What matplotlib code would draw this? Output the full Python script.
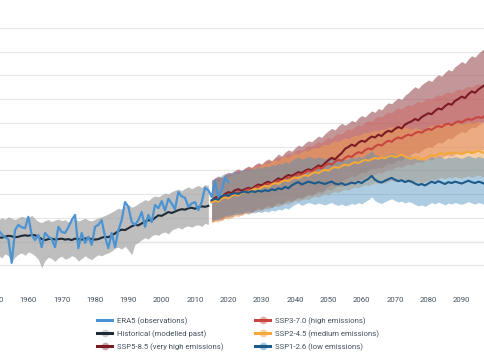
import numpy as np
import matplotlib.pyplot as plt
from matplotlib.lines import Line2D
from matplotlib.legend_handler import HandlerTuple

plt.switch_backend('agg')
plt.rcParams['font.family'] = ['Roboto', 'DejaVu Sans']

# observations 1950-2020
era5_years = np.arange(1950, 2021)
era5 = [0.20, 0.24, 0.15, 0.09, 0.05, -0.45, 0.24, 0.35, 0.30, 0.28,
        0.52, 0.14, 0.03, 0.14, -0.12, 0.18, 0.10, 0.05, -0.12, 0.31,
        0.20, 0.18, 0.30, 0.45, 0.56, -0.14, 0.18, -0.03, 0.10, -0.07,
        0.31, 0.35, 0.45, 0.10, -0.14, 0.18, -0.12, 0.24, 0.45, 0.83,
        0.73, 0.41, 0.35, 0.45, 0.62, 0.31, 0.56, 0.41, 0.77, 0.70,
        0.85, 0.65, 0.90, 0.80, 0.68, 1.04, 0.95, 0.92, 0.73, 0.80,
        0.83, 0.66, 0.83, 1.13, 1.08, 0.94, 1.25, 0.94, 1.08, 1.34,
        1.25]

# historical model runs 1950-2014
hist_years = np.arange(1950, 2015)
hist = [0.10, 0.09, 0.08, 0.10, 0.12, 0.11, 0.09, 0.10, 0.12, 0.13,
        0.12, 0.14, 0.13, 0.10, 0.05, 0.03, 0.05, 0.06, 0.04, 0.05,
        0.06, 0.04, 0.05, 0.03, 0.06, 0.05, 0.04, 0.06, 0.07, 0.05,
        0.04, 0.05, 0.08, 0.10, 0.09, 0.13, 0.17, 0.22, 0.25, 0.24,
        0.28, 0.32, 0.35, 0.34, 0.38, 0.42, 0.45, 0.44, 0.50, 0.55,
        0.54, 0.58, 0.62, 0.60, 0.63, 0.66, 0.68, 0.67, 0.70, 0.71,
        0.69, 0.72, 0.74, 0.73, 0.75]
hist_lo = [-0.30, -0.28, -0.35, -0.26, -0.30, -0.42, -0.33, -0.27, -0.24, -0.29,
           -0.22, -0.25, -0.30, -0.38, -0.55, -0.40, -0.33, -0.36, -0.42, -0.34,
           -0.31, -0.37, -0.35, -0.30, -0.33, -0.41, -0.36, -0.30, -0.35, -0.38,
           -0.32, -0.28, -0.30, -0.26, -0.24, -0.20, -0.14, -0.12, -0.16, -0.10,
           -0.18, -0.28, -0.06, -0.02, 0.04, 0.08, 0.05, 0.12, 0.15, 0.13,
           0.18, 0.20, 0.16, 0.24, 0.27, 0.30, 0.26, 0.31, 0.33, 0.30,
           0.34, 0.35, 0.32, 0.38, 0.36]
hist_hi = [0.48, 0.45, 0.50, 0.47, 0.52, 0.49, 0.46, 0.50, 0.53, 0.51,
           0.50, 0.55, 0.48, 0.42, 0.40, 0.44, 0.46, 0.42, 0.45, 0.47,
           0.44, 0.46, 0.41, 0.45, 0.48, 0.43, 0.46, 0.49, 0.45, 0.43,
           0.47, 0.50, 0.52, 0.55, 0.58, 0.62, 0.66, 0.70, 0.68, 0.74,
           0.78, 0.72, 0.75, 0.80, 0.84, 0.88, 0.86, 0.92, 0.96, 0.94,
           0.98, 1.02, 1.00, 1.05, 1.08, 1.10, 1.07, 1.12, 1.15, 1.11,
           1.15, 1.18, 1.14, 1.20, 1.17]

# scenarios 2015-2100
ssp_years = np.arange(2015, 2101)

ssp585 = [0.86, 0.92, 0.95, 0.93, 1.00, 1.04, 1.02, 1.08, 1.10, 1.07,
          1.10, 1.13, 1.11, 1.16, 1.20, 1.18, 1.23, 1.26, 1.22, 1.28,
          1.33, 1.30, 1.36, 1.40, 1.38, 1.42, 1.46, 1.44, 1.49, 1.52,
          1.50, 1.55, 1.60, 1.58, 1.65, 1.71, 1.76, 1.73, 1.80, 1.86,
          1.95, 1.99, 2.04, 2.01, 2.08, 2.12, 2.10, 2.16, 2.21, 2.19,
          2.25, 2.22, 2.29, 2.33, 2.31, 2.37, 2.41, 2.38, 2.46, 2.50,
          2.53, 2.58, 2.55, 2.62, 2.66, 2.70, 2.68, 2.75, 2.80, 2.78,
          2.85, 2.90, 2.88, 2.96, 3.00, 3.05, 3.02, 3.10, 3.16, 3.13,
          3.20, 3.25, 3.30, 3.28, 3.36, 3.40]
ssp585_lo = [0.42, 0.46, 0.50, 0.47, 0.53, 0.57, 0.55, 0.60, 0.62, 0.58,
             0.63, 0.66, 0.62, 0.67, 0.71, 0.68, 0.73, 0.76, 0.72, 0.78,
             0.82, 0.79, 0.85, 0.88, 0.86, 0.90, 0.94, 0.92, 0.96, 1.00,
             0.98, 1.02, 1.07, 1.05, 1.11, 1.16, 1.20, 1.17, 1.23, 1.28,
             1.31, 1.35, 1.39, 1.36, 1.42, 1.46, 1.44, 1.50, 1.54, 1.52,
             1.57, 1.55, 1.61, 1.65, 1.63, 1.68, 1.72, 1.70, 1.77, 1.81,
             1.84, 1.88, 1.86, 1.92, 1.96, 2.00, 1.98, 2.04, 2.09, 2.07,
             2.13, 2.18, 2.16, 2.23, 2.27, 2.32, 2.29, 2.36, 2.41, 2.39,
             2.45, 2.50, 2.54, 2.52, 2.59, 2.63]
ssp585_hi = [1.28, 1.34, 1.38, 1.35, 1.42, 1.46, 1.44, 1.50, 1.53, 1.49,
             1.55, 1.59, 1.56, 1.62, 1.66, 1.63, 1.70, 1.74, 1.70, 1.77,
             1.84, 1.80, 1.88, 1.93, 1.90, 1.97, 2.03, 2.00, 2.07, 2.12,
             2.10, 2.16, 2.22, 2.19, 2.27, 2.33, 2.38, 2.35, 2.43, 2.49,
             2.45, 2.49, 2.55, 2.52, 2.60, 2.65, 2.62, 2.69, 2.75, 2.72,
             2.80, 2.77, 2.86, 2.92, 2.90, 2.97, 3.02, 2.99, 3.08, 3.13,
             3.20, 3.26, 3.22, 3.30, 3.35, 3.40, 3.37, 3.45, 3.51, 3.48,
             3.56, 3.62, 3.59, 3.68, 3.73, 3.79, 3.75, 3.84, 3.91, 3.88,
             3.96, 4.02, 4.07, 4.04, 4.12, 4.17]

ssp370 = [0.84, 0.88, 0.91, 0.89, 0.95, 0.98, 0.96, 1.01, 1.04, 1.02,
          1.07, 1.10, 1.08, 1.13, 1.16, 1.14, 1.19, 1.22, 1.20, 1.25,
          1.28, 1.26, 1.31, 1.35, 1.33, 1.38, 1.42, 1.40, 1.45, 1.49,
          1.47, 1.52, 1.56, 1.54, 1.60, 1.64, 1.62, 1.68, 1.72, 1.70,
          1.76, 1.80, 1.78, 1.84, 1.88, 1.86, 1.92, 1.96, 1.94, 2.00,
          2.04, 2.02, 2.08, 2.12, 2.10, 2.16, 2.19, 2.17, 2.22, 2.25,
          2.23, 2.28, 2.31, 2.29, 2.34, 2.37, 2.35, 2.40, 2.43, 2.41,
          2.46, 2.48, 2.45, 2.50, 2.53, 2.51, 2.55, 2.58, 2.56, 2.60,
          2.62, 2.60, 2.65, 2.68, 2.66, 2.70]
ssp370_lo = [0.40, 0.43, 0.46, 0.44, 0.49, 0.52, 0.50, 0.55, 0.57, 0.55,
             0.60, 0.62, 0.60, 0.65, 0.68, 0.66, 0.70, 0.73, 0.71, 0.76,
             0.79, 0.77, 0.82, 0.85, 0.83, 0.88, 0.91, 0.89, 0.94, 0.97,
             0.95, 1.00, 1.03, 1.01, 1.07, 1.10, 1.08, 1.14, 1.17, 1.15,
             1.21, 1.24, 1.22, 1.28, 1.31, 1.29, 1.35, 1.38, 1.36, 1.42,
             1.45, 1.43, 1.49, 1.52, 1.50, 1.56, 1.58, 1.56, 1.61, 1.63,
             1.61, 1.66, 1.68, 1.66, 1.71, 1.73, 1.71, 1.76, 1.78, 1.76,
             1.81, 1.82, 1.79, 1.84, 1.86, 1.84, 1.88, 1.90, 1.88, 1.92,
             1.94, 1.92, 1.96, 1.99, 1.97, 2.00]
ssp370_hi = [1.27, 1.32, 1.36, 1.33, 1.40, 1.43, 1.41, 1.47, 1.50, 1.48,
             1.54, 1.57, 1.55, 1.61, 1.64, 1.62, 1.68, 1.71, 1.69, 1.75,
             1.78, 1.76, 1.82, 1.86, 1.84, 1.90, 1.94, 1.92, 1.98, 2.02,
             2.00, 2.06, 2.10, 2.08, 2.15, 2.19, 2.17, 2.24, 2.28, 2.26,
             2.33, 2.37, 2.35, 2.42, 2.46, 2.44, 2.51, 2.55, 2.53, 2.60,
             2.64, 2.62, 2.69, 2.73, 2.71, 2.78, 2.81, 2.79, 2.85, 2.88,
             2.86, 2.92, 2.95, 2.93, 2.99, 3.02, 3.00, 3.06, 3.09, 3.07,
             3.13, 3.15, 3.12, 3.18, 3.21, 3.19, 3.24, 3.27, 3.25, 3.30,
             3.32, 3.30, 3.36, 3.39, 3.37, 3.42]

ssp245 = [0.82, 0.86, 0.84, 0.90, 0.93, 0.91, 0.96, 0.99, 0.97, 1.02,
          1.05, 1.03, 1.08, 1.11, 1.09, 1.14, 1.17, 1.15, 1.20, 1.23,
          1.21, 1.26, 1.29, 1.27, 1.32, 1.35, 1.33, 1.37, 1.40, 1.38,
          1.43, 1.46, 1.44, 1.48, 1.51, 1.49, 1.54, 1.57, 1.55, 1.59,
          1.62, 1.60, 1.64, 1.67, 1.65, 1.69, 1.72, 1.70, 1.73, 1.76,
          1.74, 1.77, 1.75, 1.79, 1.81, 1.78, 1.80, 1.83, 1.79, 1.76,
          1.74, 1.78, 1.76, 1.72, 1.75, 1.79, 1.82, 1.80, 1.84, 1.86,
          1.83, 1.87, 1.85, 1.88, 1.86, 1.84, 1.87, 1.89, 1.86, 1.88,
          1.91, 1.88, 1.86, 1.89, 1.87, 1.90]
ssp245_lo = [0.40, 0.43, 0.41, 0.46, 0.49, 0.47, 0.51, 0.54, 0.52, 0.57,
             0.59, 0.57, 0.62, 0.65, 0.63, 0.67, 0.70, 0.68, 0.73, 0.75,
             0.73, 0.78, 0.80, 0.78, 0.83, 0.86, 0.84, 0.88, 0.90, 0.88,
             0.93, 0.95, 0.93, 0.97, 1.00, 0.98, 1.03, 1.05, 1.03, 1.07,
             1.10, 1.08, 1.12, 1.15, 1.13, 1.17, 1.20, 1.18, 1.21, 1.24,
             1.22, 1.25, 1.23, 1.27, 1.29, 1.26, 1.28, 1.31, 1.27, 1.25,
             1.23, 1.27, 1.25, 1.22, 1.25, 1.28, 1.31, 1.29, 1.33, 1.35,
             1.32, 1.36, 1.34, 1.37, 1.35, 1.33, 1.36, 1.38, 1.35, 1.37,
             1.40, 1.37, 1.35, 1.38, 1.36, 1.39]
ssp245_hi = [1.24, 1.29, 1.27, 1.34, 1.37, 1.35, 1.41, 1.44, 1.42, 1.48,
             1.51, 1.49, 1.55, 1.58, 1.56, 1.62, 1.65, 1.63, 1.69, 1.72,
             1.70, 1.76, 1.79, 1.77, 1.83, 1.86, 1.84, 1.89, 1.92, 1.90,
             1.96, 1.99, 1.97, 2.02, 2.05, 2.03, 2.09, 2.12, 2.10, 2.15,
             2.18, 2.16, 2.21, 2.24, 2.22, 2.27, 2.30, 2.28, 2.32, 2.35,
             2.33, 2.37, 2.35, 2.40, 2.42, 2.39, 2.42, 2.45, 2.41, 2.38,
             2.36, 2.40, 2.38, 2.34, 2.38, 2.42, 2.45, 2.43, 2.47, 2.49,
             2.46, 2.50, 2.48, 2.51, 2.49, 2.47, 2.50, 2.52, 2.49, 2.51,
             2.54, 2.51, 2.49, 2.52, 2.50, 2.53]

ssp126 = [0.87, 0.90, 0.88, 0.95, 0.98, 0.96, 1.00, 1.02, 1.00, 1.04,
          1.05, 1.03, 1.06, 1.04, 1.07, 1.05, 1.08, 1.06, 1.10, 1.08,
          1.12, 1.10, 1.15, 1.12, 1.18, 1.22, 1.25, 1.20, 1.23, 1.26,
          1.24, 1.22, 1.25, 1.23, 1.21, 1.24, 1.26, 1.22, 1.20, 1.23,
          1.19, 1.21, 1.24, 1.22, 1.26, 1.23, 1.28, 1.32, 1.38, 1.30,
          1.26, 1.24, 1.28, 1.31, 1.34, 1.30, 1.27, 1.29, 1.25, 1.28,
          1.26, 1.22, 1.19, 1.21, 1.18, 1.22, 1.26, 1.23, 1.27, 1.24,
          1.21, 1.25, 1.23, 1.26, 1.24, 1.22, 1.25, 1.28, 1.25, 1.23,
          1.26, 1.24, 1.21, 1.20, 1.22, 1.19]
ssp126_lo = [0.44, 0.47, 0.45, 0.51, 0.54, 0.52, 0.56, 0.58, 0.56, 0.60,
             0.61, 0.59, 0.62, 0.60, 0.63, 0.61, 0.64, 0.62, 0.66, 0.64,
             0.68, 0.66, 0.71, 0.68, 0.74, 0.78, 0.81, 0.76, 0.79, 0.82,
             0.80, 0.78, 0.81, 0.79, 0.77, 0.80, 0.82, 0.78, 0.76, 0.79,
             0.75, 0.77, 0.80, 0.78, 0.82, 0.79, 0.84, 0.88, 0.94, 0.86,
             0.82, 0.80, 0.84, 0.87, 0.90, 0.86, 0.83, 0.85, 0.81, 0.84,
             0.82, 0.78, 0.75, 0.77, 0.74, 0.78, 0.82, 0.79, 0.83, 0.80,
             0.77, 0.81, 0.79, 0.82, 0.80, 0.78, 0.81, 0.84, 0.81, 0.79,
             0.82, 0.80, 0.77, 0.76, 0.78, 0.75]
ssp126_hi = [1.30, 1.34, 1.32, 1.40, 1.43, 1.41, 1.46, 1.48, 1.46, 1.51,
             1.53, 1.51, 1.55, 1.53, 1.57, 1.55, 1.59, 1.57, 1.62, 1.60,
             1.65, 1.63, 1.68, 1.65, 1.71, 1.75, 1.78, 1.73, 1.76, 1.79,
             1.77, 1.75, 1.78, 1.76, 1.74, 1.77, 1.79, 1.75, 1.73, 1.76,
             1.72, 1.74, 1.77, 1.75, 1.79, 1.76, 1.81, 1.85, 1.91, 1.83,
             1.79, 1.77, 1.81, 1.84, 1.87, 1.83, 1.80, 1.82, 1.78, 1.81,
             1.79, 1.75, 1.72, 1.74, 1.71, 1.75, 1.79, 1.76, 1.80, 1.77,
             1.74, 1.78, 1.76, 1.79, 1.77, 1.75, 1.78, 1.81, 1.78, 1.76,
             1.79, 1.77, 1.74, 1.73, 1.75, 1.72]

labels = ['ERA5 (observations)', 'Historical (modelled past)',
          'SSP5-8.5 (very high emissions)', 'SSP3-7.0 (high emissions)',
          'SSP2-4.5 (medium emissions)', 'SSP1-2.6 (low emissions)']

c_era5 = '#4a94d4'
c_hist, f_hist = '#1e2b38', '#a8a8a8'
c585, f585 = '#7b1c24', '#9b5257'
c370, f370 = '#c8463f', '#d0605a'
c245, f245 = '#f2a93b', '#f0a050'
c126, f126 = '#1c5a8a', '#4a8fc0'
txt = '#44515e'

fig = plt.figure(figsize=(4.85, 3.6), dpi=100)
# axes wider than the figure: the original chart is cropped on both sides
ax = fig.add_axes([-38.3 / 485, 71 / 360, 533.3 / 485, 285 / 360])

ax.fill_between(ssp_years, ssp585_lo, ssp585_hi, color=f585, alpha=0.6, lw=0)
ax.fill_between(ssp_years, ssp370_lo, ssp370_hi, color=f370, alpha=0.45, lw=0)
ax.fill_between(ssp_years, ssp245_lo, ssp245_hi, color=f245, alpha=0.5, lw=0)
ax.fill_between(ssp_years, ssp126_lo, ssp126_hi, color=f126, alpha=0.45, lw=0)
ax.fill_between(hist_years, hist_lo, hist_hi, color=f_hist, alpha=0.75, lw=0)

ax.plot(ssp_years, ssp585, color=c585, lw=1.5)
ax.plot(ssp_years, ssp370, color=c370, lw=1.5)
ax.plot(ssp_years, ssp245, color=c245, lw=1.5)
ax.plot(ssp_years, ssp126, color=c126, lw=1.5)
ax.plot(hist_years, hist, color=c_hist, lw=1.5)
ax.plot(era5_years, era5, color=c_era5, lw=1.6)

ax.axhline(0, color='#9a9a9a', lw=0.8, zorder=0.5)
ax.set_xlim(1940, 2100)
ax.set_ylim(-1.0, 5.0)
ax.set_xticks(np.arange(1950, 2100, 10))
ax.set_yticks(np.arange(-1.0, 4.6, 0.5))
ax.grid(axis='y', color='#e6e6e6', lw=0.8)
ax.set_axisbelow(True)
for s in ax.spines.values():
    s.set_visible(False)
ax.tick_params(axis='x', length=0, pad=6, labelsize=5.6, labelcolor=txt)
ax.tick_params(axis='y', length=0, labelleft=False)

def h(line_c, fill_c=None):
    ln = Line2D([], [], color=line_c, lw=2.2)
    if fill_c is None:
        return ln
    blob = Line2D([], [], ls='', marker='o', ms=5.5, color=fill_c, alpha=0.5,
                  markeredgewidth=0)
    return (blob, ln)

handles = [h(c_era5), h(c_hist, f_hist), h(c585, f585),
           h(c370, f370), h(c245, f245), h(c126, f126)]
fig.legend(handles, labels, loc='upper center', bbox_to_anchor=(238 / 485, 1 - 310 / 360),
           ncol=2, frameon=False, fontsize=5.6, labelcolor=txt,
           handler_map={tuple: HandlerTuple(ndivide=1, pad=0)},
           handlelength=1.9, handletextpad=0.6, columnspacing=4.1, labelspacing=0.68)

plt.savefig('out.png', dpi=100)
